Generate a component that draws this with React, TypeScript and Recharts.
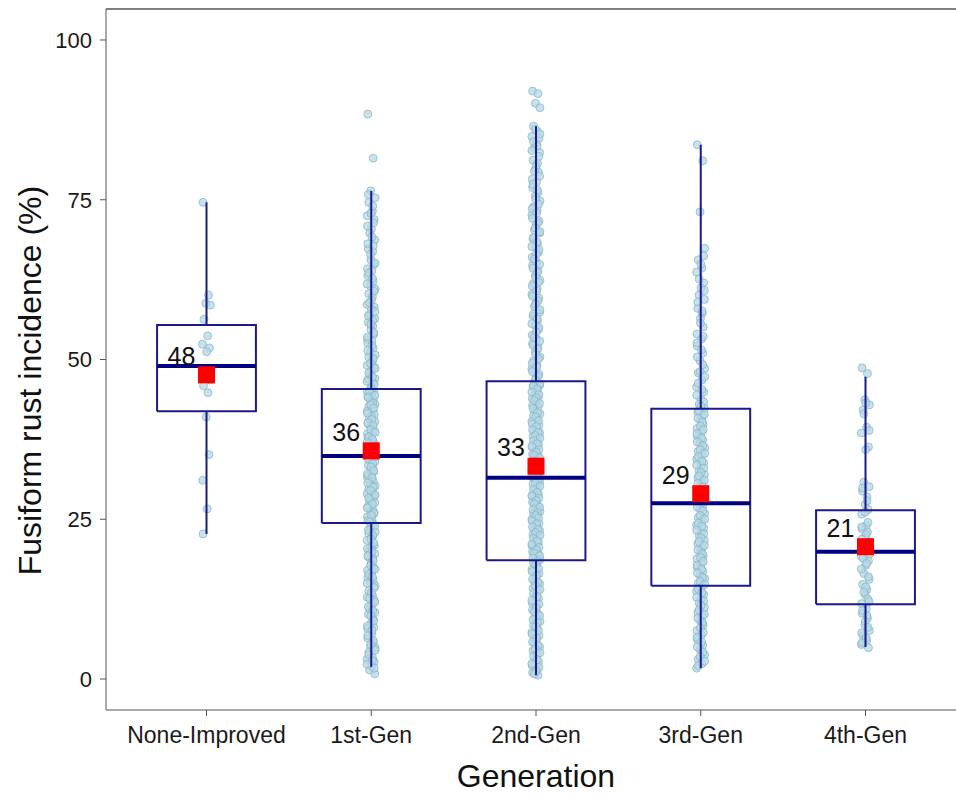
import { ComposedChart, Scatter, XAxis, YAxis, ReferenceLine } from 'recharts'

const GENERATIONS = ['None-Improved', '1st-Gen', '2nd-Gen', '3rd-Gen', '4th-Gen']
const Y_TICKS = [0, 25, 50, 75, 100]

// box stats
const LOWER = [22.7, 1.9, 0.6, 1.7, 5.0]
const Q1 = [41.9, 24.4, 18.6, 14.6, 11.7]
const MEDIAN = [49.0, 34.9, 31.5, 27.5, 19.9]
const Q3 = [55.4, 45.4, 46.6, 42.3, 26.4]
const UPPER = [74.6, 76.4, 86.5, 83.6, 47.3]
const MEANS = [47.6, 35.7, 33.3, 29.0, 20.7]

// individual plots (%)
const NONE_IMPROVED = [74.6, 60.1, 58.8, 58.5, 56.3, 53.7, 52.4, 51.8, 51.2, 47.5, 46.8, 45.9, 44.8, 41.0, 35.1, 31.1, 26.6, 22.7]
const GEN1 = [
  88.4, 81.5, 76.4, 75.3, 74.6, 73.2, 72.5, 71.9, 70.4, 69.8, 68.7, 67.3, 66.9, 65.6, 64.8, 64.2, 63.9, 63.1, 62.2, 61.5, 61.0,
  60.3, 59.8, 58.6, 58.2, 57.9, 57.1, 56.4, 55.8, 55.2, 54.7, 53.9, 53.1, 52.9, 52.6, 51.8, 51.0, 50.7, 50.4, 49.7, 49.1,
  48.8, 48.3, 47.6, 47.0, 46.9, 46.4, 45.7, 45.1, 44.9, 44.6, 44.2, 43.8, 43.5, 43.0, 42.6, 42.2, 41.9, 41.4, 41.1, 40.8,
  40.3, 39.9, 39.5, 39.2, 38.8, 38.4, 38.1, 37.7, 37.2, 36.9, 36.6, 36.1, 35.8, 35.5, 35.0, 34.6, 34.3, 34.0, 33.4, 33.0,
  32.8, 32.5, 31.8, 31.6, 31.3, 30.9, 30.5, 30.2, 29.7, 29.3, 29.0, 28.6, 28.1, 27.8, 27.6, 27.0, 26.5, 26.2, 25.9, 25.4,
  25.1, 24.8, 24.3, 23.6, 23.0, 22.8, 22.3, 21.7, 20.9, 20.6, 20.2, 19.6, 19.1, 18.8, 18.1, 17.4, 17.0, 16.7, 15.9, 15.5,
  15.2, 14.6, 13.8, 13.1, 12.8, 12.3, 11.6, 10.9, 10.4, 10.1, 9.4, 8.6, 8.1, 7.9, 7.1, 6.4, 5.7, 5.2, 4.9, 4.2, 3.4, 3.1,
  2.7, 2.0, 1.4, 0.8,
  75.8, 74.0, 72.9, 71.4, 70.9, 69.2, 68.1, 67.8, 66.4, 65.1, 63.5, 62.7, 61.8, 60.7, 59.3, 58.9, 57.5, 56.8, 56.1, 55.5,
  54.2, 53.5, 52.2, 51.4, 50.1, 49.4, 48.6, 47.9, 47.3, 46.6, 46.1, 45.4, 45.0, 44.4, 44.0, 43.2, 42.9, 42.4, 41.6, 40.6,
  40.1, 39.7, 39.0, 38.6, 37.9, 37.5, 37.0, 36.4, 35.9, 35.3, 34.8, 34.4, 33.7, 33.2, 32.6, 32.1, 31.5, 30.7, 30.0, 29.5,
  28.8, 28.3, 27.4, 26.8, 26.0, 25.6, 24.6, 24.0, 23.3, 22.5, 21.9, 21.3, 20.4, 19.9, 19.3, 18.5, 17.8, 17.2, 16.4, 16.0,
  15.0, 14.3, 13.5, 12.6, 12.0, 11.3, 10.7, 9.9, 9.1, 8.3, 7.6, 6.8, 6.0, 5.4, 4.5, 3.8, 2.9, 2.3, 1.7,
]
const GEN2 = [
  92.0, 91.6, 90.1, 89.4, 86.5, 85.7, 84.9, 84.6, 83.8, 83.1, 82.4, 81.2, 80.7, 79.9, 79.3, 78.2, 77.8, 76.9, 76.1, 75.6,
  74.8, 73.9, 73.4, 72.6, 71.7, 71.2, 70.3, 69.8, 68.9, 68.1, 67.5, 66.8, 66.0, 65.2, 64.7, 63.9, 63.2, 62.4, 61.9, 61.1,
  60.2, 59.6, 58.9, 58.3, 57.4, 56.8, 56.1, 55.3, 54.7, 53.8, 53.2, 52.5, 51.9, 51.2, 50.4, 49.8, 49.1, 48.5, 47.7, 47.2,
  46.4, 46.0, 45.7, 45.1, 44.8, 44.2, 43.9, 43.3, 42.8, 42.6, 41.9, 41.5, 41.2, 40.6, 40.3, 39.7, 39.4, 38.8, 38.5, 37.9,
  37.6, 37.0, 36.7, 36.3, 35.8, 35.2, 34.9, 34.3, 34.0, 33.6, 33.1, 32.7, 32.2, 31.8, 31.4, 30.9, 30.5, 29.8, 29.5, 28.9,
  28.6, 28.0, 27.7, 27.1, 26.8, 26.2, 25.9, 25.5, 25.0, 24.4, 24.1, 23.5, 23.2, 22.6, 22.3, 21.7, 21.4, 20.8, 20.5, 19.9,
  19.6, 19.0, 18.7, 18.2, 17.6, 17.1, 16.5, 15.8, 15.3, 14.9, 14.2, 13.7, 13.0, 12.6, 11.9, 11.4, 10.8, 10.2, 9.7, 9.0,
  8.5, 7.9, 7.3, 6.8, 6.1, 5.6, 5.0, 4.4, 3.9, 3.2, 2.7, 2.1, 1.5, 1.0, 0.6,
  86.0, 85.3, 84.1, 83.4, 82.7, 81.8, 80.3, 79.5, 78.7, 77.4, 76.5, 75.1, 74.3, 73.6, 72.9, 72.1, 71.4, 70.6, 70.0, 69.1,
  68.4, 67.7, 67.2, 66.4, 65.7, 64.9, 64.3, 63.6, 62.8, 62.1, 61.5, 60.7, 59.9, 59.2, 58.6, 57.8, 57.1, 56.4, 55.6, 55.0,
  54.3, 53.5, 52.9, 52.2, 51.6, 50.8, 50.1, 49.4, 48.8, 48.1, 47.4, 46.8, 46.2, 45.9, 45.4, 44.9, 44.5, 44.0, 43.6, 43.1,
  42.3, 41.7, 41.0, 40.4, 39.9, 39.5, 39.0, 38.6, 38.1, 37.7, 37.3, 36.8, 36.4, 35.9, 35.5, 35.0, 34.6, 34.1, 33.8, 33.3,
  32.9, 32.4, 32.0, 31.6, 31.1, 30.7, 30.2, 29.7, 29.2, 28.7, 28.3, 27.9, 27.4, 26.9, 26.5, 26.0, 25.6, 25.2, 24.7, 24.3,
  23.8, 23.4, 22.9, 22.5, 22.0, 21.6, 21.1, 20.6, 20.2, 19.7, 19.3, 18.9, 18.4, 17.9, 17.3, 16.8, 16.2, 15.6, 15.1, 14.6,
  14.0, 13.4, 12.9, 12.3, 11.7, 11.1, 10.5, 9.9, 9.3, 8.8, 8.2, 7.6, 7.0, 6.4, 5.8, 5.3, 4.7, 4.1, 3.5, 3.0, 2.4, 1.8,
  1.2, 0.8,
]
const GEN3 = [
  83.6, 81.1, 73.1, 67.4, 65.6, 64.3, 63.7, 62.0, 61.2, 60.1, 59.4, 58.0, 57.2, 56.4, 55.1, 54.0, 53.2, 52.1, 51.0, 49.8,
  48.6, 47.9, 46.8, 45.7, 44.9, 43.8, 43.0, 42.4, 41.8, 41.1, 40.5, 39.9, 39.2, 38.7, 38.0, 37.4, 36.9, 36.2, 35.6, 35.1,
  34.4, 33.8, 33.3, 32.6, 32.0, 31.5, 30.8, 30.3, 29.6, 28.9, 28.4, 27.8, 27.1, 26.6, 25.9, 25.3, 24.8, 24.1, 23.6, 22.9,
  22.4, 21.7, 21.2, 20.5, 19.9, 19.3, 18.8, 18.1, 17.5, 16.9, 16.2, 15.7, 15.0, 14.5, 13.8, 13.2, 12.5, 11.9, 11.2, 10.4,
  9.8, 9.1, 8.4, 7.6, 6.9, 6.2, 5.3, 4.6, 3.8, 3.1, 2.4, 1.7,
  66.2, 64.9, 62.6, 60.8, 59.0, 57.6, 55.7, 53.6, 52.6, 51.5, 50.4, 49.2, 48.1, 47.3, 46.3, 45.3, 44.4, 43.4, 42.7, 42.0,
  41.4, 40.8, 40.2, 39.6, 39.0, 38.4, 37.7, 37.1, 36.5, 35.9, 35.3, 34.8, 34.1, 33.5, 33.0, 32.3, 31.8, 31.1, 30.6, 30.0,
  29.3, 28.7, 28.1, 27.5, 26.9, 26.3, 25.6, 25.0, 24.4, 23.9, 23.3, 22.7, 22.1, 21.5, 20.9, 20.2, 19.6, 19.0, 18.4, 17.8,
  17.2, 16.6, 15.9, 15.3, 14.8, 14.1, 13.5, 12.8, 12.2, 11.5, 10.8, 10.1, 9.5, 8.8, 8.0, 7.3, 6.5, 5.8, 5.0, 4.2, 3.5, 2.8, 2.1,
]
const GEN4 = [
  48.7, 47.8, 43.7, 42.9, 42.1, 39.4, 38.5, 36.3, 35.9, 30.8, 30.1, 29.4, 28.5, 27.3, 26.5, 25.8, 24.0, 23.5, 23.0, 22.2,
  21.5, 20.8, 20.0, 19.2, 18.5, 17.8, 16.5, 15.6, 14.8, 14.0, 13.2, 12.5, 11.8, 11.0, 10.3, 9.5, 8.5, 7.6, 6.8, 6.0, 5.4, 4.9,
  43.2, 41.5, 38.9, 29.9, 27.9, 26.1, 24.5, 23.8, 22.6, 21.9, 21.1, 20.4, 19.6, 18.9, 18.1, 17.2, 16.0, 14.4, 13.6, 12.1,
  10.7, 9.9, 9.0, 8.1, 7.2, 6.4, 5.7,
]
const GROUPS = [NONE_IMPROVED, GEN1, GEN2, GEN3, GEN4]

// fixed horizontal jitter, in category units
const JITTER = [-0.021, 0.012, -0.004, 0.024, -0.015, 0.007, -0.025, 0.018, 0.001, -0.01, 0.022, -0.018, 0.009, -0.002, 0.015, -0.023, 0.004]

const points = GROUPS.flatMap((vals, i) => vals.map((v, k) => ({ x: i + 1 + JITTER[k % JITTER.length], y: v })))
const means = MEANS.map((m, i) => ({ x: i + 1, y: m }))

const FONT = '"Liberation Sans", Arial, sans-serif'
const BOX = '#1a1a8c'
const HALF = 0.3
const Y_MIN = -4.85
const Y_MAX = 104.85

// outline pieces of each box, drawn as connected scatter lines so they sit above the points
const upperWhiskers = GENERATIONS.map((_, i) => [{ x: i + 1, y: Q3[i] }, { x: i + 1, y: UPPER[i] }])
const lowerWhiskers = GENERATIONS.map((_, i) => [{ x: i + 1, y: LOWER[i] }, { x: i + 1, y: Q1[i] }])
const boxes = GENERATIONS.map((_, i) => [
  { x: i + 1 - HALF, y: Q1[i] },
  { x: i + 1 + HALF, y: Q1[i] },
  { x: i + 1 + HALF, y: Q3[i] },
  { x: i + 1 - HALF, y: Q3[i] },
  { x: i + 1 - HALF, y: Q1[i] },
])
const medians = GENERATIONS.map((_, i) => [{ x: i + 1 - HALF, y: MEDIAN[i] }, { x: i + 1 + HALF, y: MEDIAN[i] }])

const Dot = (p: any) => (
  <circle cx={p.cx} cy={p.cy} r={4} fill="#b3d8e6" fillOpacity={0.75} stroke="#86aec0" strokeOpacity={0.65} strokeWidth={1} />
)
const NoDot = () => <g />

const MeanMark = (p: any) => (
  <g>
    <rect x={p.cx - 8.5} y={p.cy - 8.5} width={17} height={17} fill="#ff0000" />
    <text x={p.cx - 25} y={p.cy - 19} textAnchor="middle" dominantBaseline="central" fontSize={25} fontFamily={FONT} fill="#111">
      {Math.round(p.payload.y)}
    </text>
  </g>
)

const YTitle = (props: any) => {
  const vb = props.viewBox
  const x = vb.x + 30
  const y = vb.y + vb.height / 2 + 21
  return (
    <text x={x} y={y} transform={`rotate(-90 ${x} ${y})`} textAnchor="middle" dominantBaseline="central" fontSize={32} fontFamily={FONT} fill="#111">
      Fusiform rust incidence (%)
    </text>
  )
}

export default function App() {
  return (
    <div style={{ position: 'absolute', left: 0, top: 0, width: 956, height: 796, overflow: 'hidden', background: '#fff' }}>
      <ComposedChart width={970} height={796} margin={{ top: 9, right: 4, bottom: 0, left: 0 }}>
        <XAxis
          type="number"
          dataKey="x"
          domain={[0.39, 5.61]}
          ticks={[1, 2, 3, 4, 5]}
          tickFormatter={(v: number) => GENERATIONS[v - 1]}
          allowDataOverflow
          height={86}
          stroke="#555"
          tickSize={6}
          tickMargin={11}
          tick={{ fill: '#1a1a1a', fontSize: 23, fontFamily: FONT }}
          label={{ value: 'Generation', position: 'insideBottom', offset: 9, fontSize: 32, fill: '#111', fontFamily: FONT }}
        />
        <YAxis
          type="number"
          dataKey="y"
          domain={[Y_MIN, Y_MAX]}
          ticks={Y_TICKS}
          allowDataOverflow
          width={106}
          stroke="#555"
          tickSize={6}
          tickMargin={8}
          tick={{ fill: '#1a1a1a', fontSize: 22, fontFamily: FONT }}
          label={{ content: YTitle }}
        />
        <ReferenceLine y={Y_MAX} stroke="#555" strokeWidth={1.5} ifOverflow="extendDomain" />
        <Scatter data={points} shape={Dot} isAnimationActive={false} />
        {upperWhiskers.map((seg, i) => (
          <Scatter key={`wu${i}`} data={seg} shape={NoDot} line={{ stroke: BOX, strokeWidth: 2 }} isAnimationActive={false} />
        ))}
        {lowerWhiskers.map((seg, i) => (
          <Scatter key={`wl${i}`} data={seg} shape={NoDot} line={{ stroke: BOX, strokeWidth: 2 }} isAnimationActive={false} />
        ))}
        {boxes.map((seg, i) => (
          <Scatter key={`b${i}`} data={seg} shape={NoDot} line={{ stroke: BOX, strokeWidth: 2, strokeLinejoin: 'miter' }} isAnimationActive={false} />
        ))}
        {medians.map((seg, i) => (
          <Scatter key={`m${i}`} data={seg} shape={NoDot} line={{ stroke: '#000080', strokeWidth: 4 }} isAnimationActive={false} />
        ))}
        <Scatter data={means} shape={MeanMark} isAnimationActive={false} />
      </ComposedChart>
    </div>
  )
}
